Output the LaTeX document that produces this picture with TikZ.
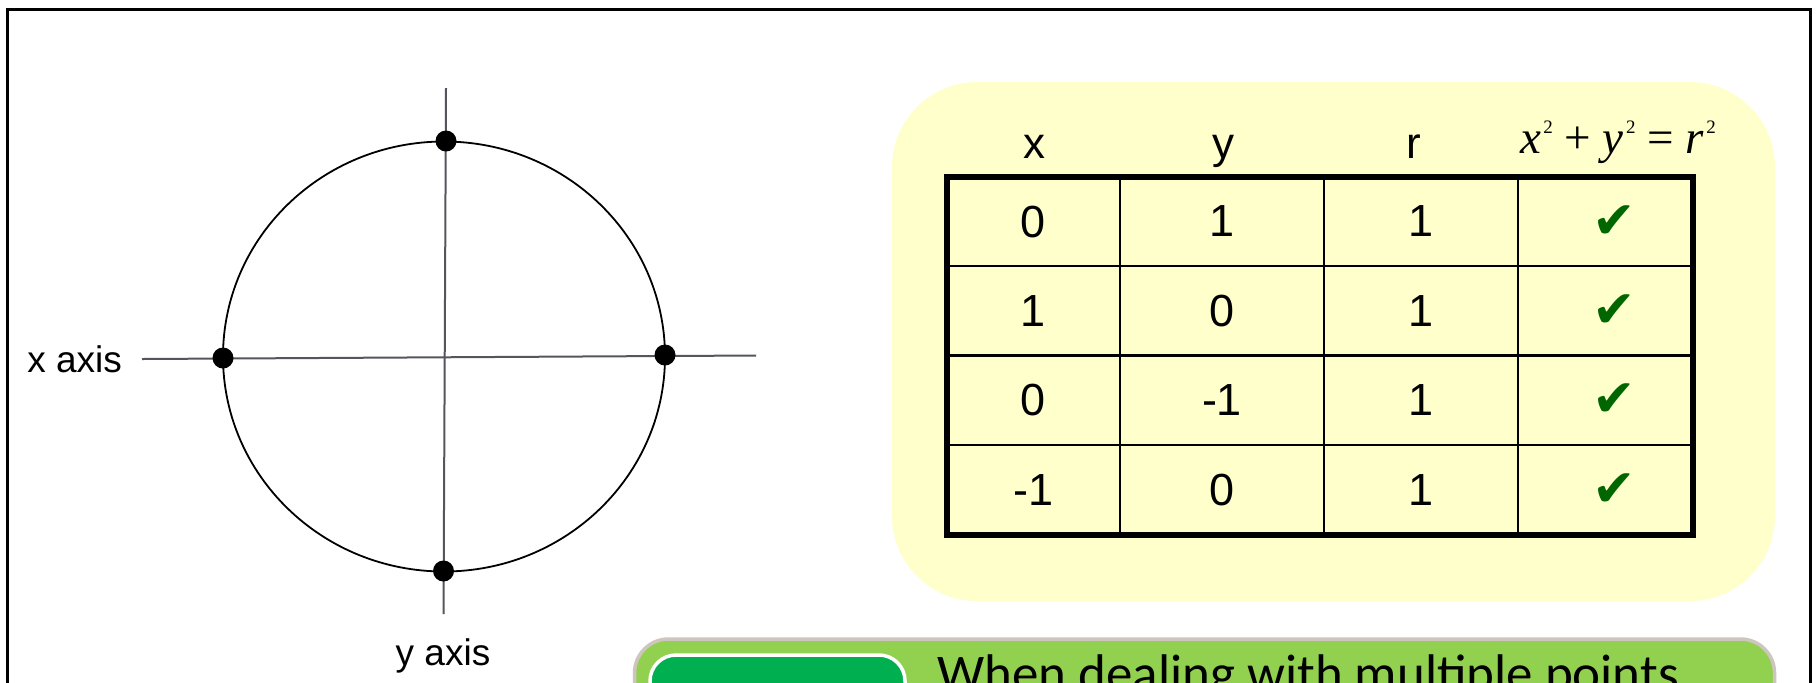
\documentclass[tikz,border=0pt]{standalone}
\usepackage{fontspec}
\setmainfont{Liberation Sans}
\newfontfamily\timesf{Liberation Serif}
\newfontfamily\calib{Carlito}
\newfontfamily\djv{DejaVu Sans}
\definecolor{paleyellow}{HTML}{FFFFCC}
\definecolor{limegreen}{HTML}{92D050}
\definecolor{boxgreen}{HTML}{00B050}
\definecolor{borderbeige}{HTML}{CEC6BE}
\definecolor{checkgreen}{HTML}{006600}
\definecolor{axisgrey}{HTML}{55555F}
\newcommand\supr[1]{\kern1.2pt\raisebox{10pt}{\fontsize{9.5}{10}\selectfont #1}}
\begin{document}
\begin{tikzpicture}[x=0.5pt,y=-0.5pt,
  cell/.style={font=\fontsize{22.5}{27}\selectfont, inner sep=0pt},
  head/.style={font=\fontsize{22}{26}\selectfont, inner sep=0pt, anchor=base},
  tick/.style={font=\djv\fontsize{26}{30}\selectfont, text=checkgreen, inner sep=0pt},
  dot/.style={circle, fill=black, minimum size=10.5pt, inner sep=0pt},
  axis/.style={draw=axisgrey, line width=1pt},
  lbl/.style={font=\fontsize{18.5}{22}\selectfont, inner sep=0pt, anchor=base},
  outerline/.style={line width=3pt},
  innerline/.style={line width=1.25pt}]
\useasboundingbox (0,0) rectangle (1816,682);
\clip (0,0) rectangle (1816,682);
\fill[white] (0,0) rectangle (1816,682);
% frame
\draw[line width=1.5pt] (7,9) rectangle (1810,760);
% circle diagram
\draw[axis] (142,359) -- (756,355.5);
\draw[axis] (446,88) -- (443.5,614);
\draw[line width=0.9pt] (444,356.5) ellipse [x radius=221, y radius=215];
\node[dot] (ptop) at (446,141) {};
\node[dot] (pbot) at (443.5,571) {};
\node[dot] (pleft) at (223,358) {};
\node[dot] (pright) at (665,355) {};
\node[lbl, anchor=base west] (xlab) at (27,372) {x axis};
\node[lbl] (ylab) at (443,665) {y axis};
% yellow panel
\fill[paleyellow, rounded corners=42.5pt] (892,82) rectangle (1775,601);
% table headers
\node[head] (h1) at (1034,158) {x};
\node[head] (h2) at (1223,158) {y};
\node[head] (h3) at (1414,158) {r};
\node[font=\timesf\fontsize{23.5}{28}\selectfont, inner sep=0pt, anchor=base] (h4) at (1618,153)
  {\textit{x}\supr{2} + \textit{y}\supr{2} = \textit{r}\supr{2}};
% table grid
\draw[innerline] (1120,177) -- (1120,535) (1324,177) -- (1324,535) (1518,177) -- (1518,535);
\draw[innerline] (947,266) -- (1693,266) (947,355.5) -- (1693,355.5) (947,445) -- (1693,445);
\draw[outerline] (947,177) rectangle (1693,535);
% table cells
\node[cell] (c11) at (1033.5,221.5) {0};
\node[cell] (c12) at (1222,221.5) {1};
\node[cell] (c13) at (1421,221.5) {1};
\node[tick] (c14) at (1614,222) {✔};
\node[cell] (c21) at (1033.5,310.75) {1};
\node[cell] (c22) at (1222,310.75) {0};
\node[cell] (c23) at (1421,310.75) {1};
\node[tick] (c24) at (1614,311) {✔};
\node[cell] (c31) at (1033.5,400.25) {0};
\node[cell] (c32) at (1222,400.25) {-1};
\node[cell] (c33) at (1421,400.25) {1};
\node[tick] (c34) at (1614,400.5) {✔};
\node[cell] (c41) at (1033.5,490) {-1};
\node[cell] (c42) at (1222,490) {0};
\node[cell] (c43) at (1421,490) {1};
\node[tick] (c44) at (1614,490) {✔};
% green box
\filldraw[fill=limegreen, draw=borderbeige, line width=1.75pt, rounded corners=17pt] (634.5,639) rectangle (1774.5,780);
\filldraw[fill=boxgreen, draw=white, line width=1.75pt, rounded corners=13pt] (650,655) rectangle (905,780);
\node[font=\calib\fontsize{26.5}{32}\selectfont, inner sep=0pt, anchor=base west] (note) at (937,691) {When dealing with multiple points};
\end{tikzpicture}
\end{document}
